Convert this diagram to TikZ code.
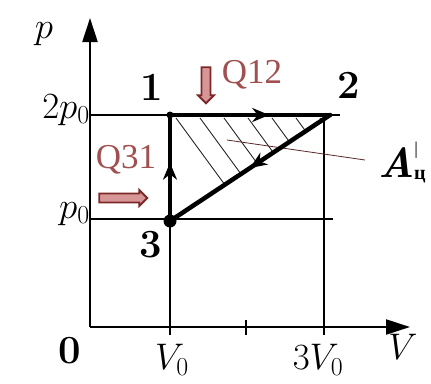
\RequirePackage{fix-cm}
\documentclass[tikz,border=0pt]{standalone}
\usepackage{fontspec}
\newfontfamily\cyrfont{Liberation Serif}
\newfontfamily\qfont{Liberation Serif}
\usetikzlibrary{arrows.meta,shapes.arrows,decorations.markings}
\definecolor{qred}{RGB}{160,80,80}
\definecolor{qdark}{RGB}{125,40,40}
\definecolor{qfill}{RGB}{215,150,150}
\definecolor{leadc}{RGB}{90,40,40}
\begin{document}
\begin{tikzpicture}[x=1pt,y=-1pt,
  axis/.style={line width=2.2pt,-{Triangle[length=24pt,width=15pt]}},
  gridl/.style={line width=1.6pt},
  cycleln/.style={line width=4.5pt,line cap=round,line join=miter},
  hatchln/.style={line width=0.9pt,color=black!85},
  lab/.style={font=\fontsize{37}{40}\selectfont,inner sep=0pt},
  numlab/.style={font=\fontsize{40}{44}\selectfont\bfseries,inner sep=0pt},
  qlab/.style={font=\fontsize{35}{38}\selectfont\qfont,text=qred,inner sep=0pt},
  heat/.style={single arrow,draw=qdark,fill=qfill,line width=1.8pt,inner sep=3.6pt,
    single arrow head extend=3.5pt,single arrow tip angle=90},
  midarrow/.style={postaction={decorate},decoration={markings,
    mark=at position #1 with {\arrow{Stealth[length=17pt,width=14pt]}}}}
]
\useasboundingbox (0,0) rectangle (431,383);
% coordinates
\coordinate (O) at (90,327);
\coordinate (Vend) at (410,327);
\coordinate (pend) at (90,18);
\coordinate (P1) at (170,115);
\coordinate (P2) at (330,115);
\coordinate (P3) at (170,221);
\coordinate (g2a) at (90,115);
\coordinate (g2b) at (340,115);
\coordinate (g1a) at (90,219);
\coordinate (g1b) at (333,219);
\coordinate (v1a) at (170,335);
\coordinate (v1b) at (170,112);
\coordinate (v3a) at (324,335);
\coordinate (v3b) at (324,115);
\coordinate (t2a) at (246,320);
\coordinate (t2b) at (246,335);
\coordinate (La) at (227,140);
\coordinate (Lb) at (365,160);

% grid lines
\draw[gridl] (g2a) -- (g2b);
\draw[gridl] (g1a) -- (g1b);
\draw[gridl] (v1a) -- (v1b);
\draw[gridl] (v3a) -- (v3b);
\draw[gridl] (t2a) -- (t2b);

% axes
\draw[axis] (O) -- (Vend);
\draw[axis] (O) -- (pend);

% hatching
\begin{scope}
  \clip (P1) -- (P2) -- (P3) -- cycle;
  \foreach \x in {176,200,224,248,272,296,320}
    \draw[hatchln] (\x,118) -- ++(60,82);
\end{scope}

% leader line
\draw[line width=0.8pt,leadc] (La) -- (Lb);

% cycle
\draw[cycleln,midarrow=0.62] (P1) -- (P2);
\draw[cycleln,midarrow=0.5] (P2) -- (P3);
\draw[cycleln,midarrow=0.55] (P3) -- (P1);
\fill (P3) circle (6.5);
\fill (P1) circle (3.5);

% axis labels
\node[lab] (lp) at (44,34) {$p$};
\node[lab,anchor=east] (l2p) at (90,110) {$2p_{\mathrm{0}}$};
\node[lab,anchor=east] (lp0) at (90,214) {$p_{\mathrm{0}}$};
\node[numlab] (l0) at (70,351) {0};
\node[lab] (lV0) at (172,360) {$V_{\mathrm{0}}$};
\node[lab] (l3V0) at (318,360) {$3V_{\mathrm{0}}$};
\node[lab] (lV) at (403,347) {$V$};

% point labels
\node[numlab] (n1) at (152,87) {1};
\node[numlab] (n2) at (349,85) {2};
\node[numlab] (n3) at (151,245) {3};

% heat labels
\node[qlab] (q12) at (252,75) {Q12};
\node[qlab] (q31) at (126,160) {Q31};
\node[heat,minimum height=36pt,rotate=-90] (a12) at (206,83) {};
\node[heat,minimum height=48pt] (a31) at (121,198) {};

% work label
\node[inner sep=0pt] (lA) at (398,160) {\fontsize{42}{44}\selectfont\bfseries\itshape A\raisebox{0.55em}{\fontsize{18}{18}\selectfont\upshape\mdseries\cyrfont |}};
\node[inner sep=0pt] (lAsub) at (420,177) {\fontsize{20}{20}\selectfont\cyrfont\bfseries ц};
\end{tikzpicture}
\end{document}
